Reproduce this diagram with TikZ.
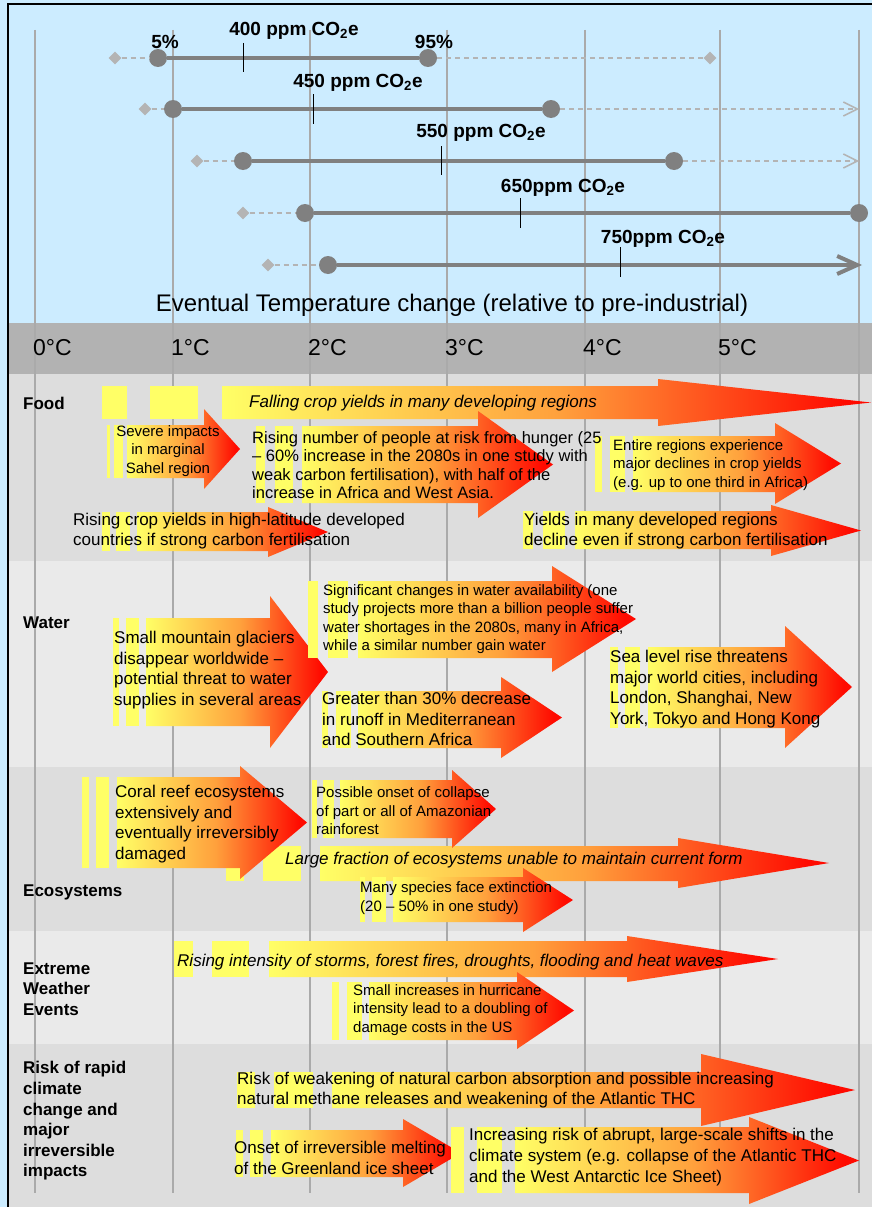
\documentclass[tikz,border=0pt]{standalone}
\usepackage{fontspec}
\setmainfont{Liberation Sans}
\usetikzlibrary{arrows.meta,shapes.geometric}
\definecolor{lblue}{RGB}{204,236,255}
\definecolor{hdr}{RGB}{178,178,178}
\definecolor{rowd}{RGB}{221,221,221}
\definecolor{rowl}{RGB}{234,234,234}
\definecolor{gridc}{RGB}{170,170,170}
\definecolor{dkg}{RGB}{128,128,128}
\definecolor{ltg}{RGB}{180,180,180}
\definecolor{ayel}{RGB}{255,255,102}
\definecolor{aorg}{RGB}{255,160,60}
\definecolor{ared}{RGB}{255,10,0}
\pgfdeclarehorizontalshading{arrgrad}{100bp}{color(0bp)=(ayel); color(25bp)=(ayel); color(51bp)=(aorg); color(73bp)=(ared); color(100bp)=(ared)}
\newcommand\fsz[2]{\fontsize{#1}{#2}\selectfont}
% #1 body x, #2 head x, #3 tip x, #4 body top, #5 body bottom, #6 head top, #7 head bottom
\newcommand\garrow[7]{\shade[shading=arrgrad] (#1,#4) -- (#2,#4) -- (#2,#6) -- (#3,{(#6+#7)/2}) -- (#2,#7) -- (#2,#5) -- (#1,#5) -- cycle;}
\newcommand\ybar[4]{\fill[ayel] (#1,#2) rectangle (#3,#4);}
\begin{document}
\begin{tikzpicture}[x=1pt,y=-1pt,
  gridl/.style={draw=gridc, line width=2pt},
  dashl/.style={draw=ltg, line width=1.5pt, dash pattern=on 5pt off 4pt},
  solidl/.style={draw=dkg, line width=4pt},
  dotn/.style={circle, fill=dkg, minimum size=18pt, inner sep=0pt},
  diam/.style={diamond, fill=ltg, minimum size=13pt, inner sep=0pt},
  tickl/.style={draw=black, line width=1pt},
  ppm/.style={font=\bfseries\fsz{19}{22}, inner sep=0pt},
  temp/.style={font=\fsz{23}{26}, anchor=west, inner sep=0pt},
  lbl/.style={font=\bfseries\fsz{17}{20.6}, align=left, anchor=west, inner sep=0pt},
  txa/.style={font=\fsz{15}{18.4}, align=left, anchor=west, inner sep=0pt},
  txb/.style={font=\fsz{17}{20.6}, align=left, anchor=west, inner sep=0pt},
  txi/.style={font=\itshape\fsz{17}{20}, anchor=west, inner sep=0pt}]
\useasboundingbox (0,0) rectangle (872,1207);
% backgrounds
\fill[lblue] (0,0) rectangle (872,1207);
\fill[hdr] (8,323) rectangle (872,374);
\fill[rowd] (8,374) rectangle (872,561);
\fill[rowl] (8,561) rectangle (872,767);
\fill[rowd] (8,767) rectangle (872,931);
\fill[rowl] (8,931) rectangle (872,1044);
\fill[rowd] (8,1044) rectangle (872,1207);
\draw[line width=2.5pt] (8,1215) -- (8,4) -- (880,4);
% grid
\foreach \gx in {35,173,310,447,585,720,859} \draw[gridl] (\gx,30) -- (\gx,1193);
% ---- top: stabilisation levels ----
% 400
\node[diam] (d1a) at (115,58) {};
\node[diam] (d1b) at (710,58) {};
\node[dotn] (c1a) at (158,58) {};
\node[dotn] (c1b) at (428,58) {};
\draw[dashl] (d1a) -- (c1a);
\draw[dashl] (c1b) -- (d1b);
\draw[solidl] (c1a) -- (c1b);
\coordinate (t1a) at (243,43); \coordinate (t1b) at (243,72);
\draw[tickl] (t1a) -- (t1b);
\node[ppm] (p5) at (165,42) {5\%};
\node[ppm] (p95) at (434,42) {95\%};
\node[ppm] (l400) at (294,31) {400 ppm CO\textsubscript{2}e};
% 450
\node[diam] (d2a) at (145,109) {};
\node[dotn] (c2a) at (173,109) {};
\node[dotn] (c2b) at (551,109) {};
\coordinate (e2) at (859,109);
\draw[dashl] (d2a) -- (c2a);
\draw[dashl, -{Straight Barb[length=14pt,width=14pt]}] (c2b) -- (e2);
\draw[solidl] (c2a) -- (c2b);
\coordinate (t2a) at (313,94); \coordinate (t2b) at (313,124);
\draw[tickl] (t2a) -- (t2b);
\node[ppm] (l450) at (358,83) {450 ppm CO\textsubscript{2}e};
% 550
\node[diam] (d3a) at (197,161) {};
\node[dotn] (c3a) at (243,161) {};
\node[dotn] (c3b) at (674,161) {};
\coordinate (e3) at (859,161);
\draw[dashl] (d3a) -- (c3a);
\draw[dashl, -{Straight Barb[length=14pt,width=14pt]}] (c3b) -- (e3);
\draw[solidl] (c3a) -- (c3b);
\coordinate (t3a) at (441,146); \coordinate (t3b) at (441,175);
\draw[tickl] (t3a) -- (t3b);
\node[ppm] (l550) at (481,133) {550 ppm CO\textsubscript{2}e};
% 650
\node[diam] (d4a) at (243,213) {};
\node[dotn] (c4a) at (305,213) {};
\node[dotn] (c4b) at (859,213) {};
\draw[dashl] (d4a) -- (c4a);
\draw[solidl] (c4a) -- (c4b);
\coordinate (t4a) at (520,198); \coordinate (t4b) at (520,228);
\draw[tickl] (t4a) -- (t4b);
\node[ppm] (l650) at (563,188) {650ppm CO\textsubscript{2}e};
% 750
\node[diam] (d5a) at (268,265) {};
\node[dotn] (c5a) at (328,265) {};
\coordinate (e5) at (862,265);
\draw[dashl] (d5a) -- (c5a);
\draw[solidl, -{Straight Barb[length=20pt,width=18pt]}] (c5a) -- (e5);
\coordinate (t5a) at (620,247); \coordinate (t5b) at (620,277);
\draw[tickl] (t5a) -- (t5b);
\node[ppm] (l750) at (663,239) {750ppm CO\textsubscript{2}e};
% title and temperature scale
\node[font=\fsz{24}{28}, inner sep=0pt] (title) at (452,305) {Eventual Temperature change (relative to pre-industrial)};
\node[temp] (k0) at (33,348) {0°C};
\node[temp] (k1) at (171,348) {1°C};
\node[temp] (k2) at (308,348) {2°C};
\node[temp] (k3) at (445,348) {3°C};
\node[temp] (k4) at (583,348) {4°C};
\node[temp] (k5) at (718,348) {5°C};
% ---- Food ----
\ybar{102}{386}{127}{419}\ybar{150}{386}{198}{419}
\garrow{222}{658}{871}{386}{419}{379}{426}
\ybar{107}{425}{110}{478}\ybar{114}{425}{123}{478}
\garrow{127}{204}{240}{425}{478}{409}{489}
\ybar{256}{426}{265}{503}\ybar{275}{426}{293}{503}
\garrow{302}{478}{553}{426}{503}{411}{518}
\ybar{595}{436}{602}{492}\ybar{610}{436}{625}{492}
\garrow{633}{775}{841}{436}{492}{423}{504}
\ybar{102}{512}{110}{551}\ybar{116}{512}{130}{551}
\garrow{137}{268}{328}{512}{551}{507}{557}
\ybar{523}{511}{533}{549}\ybar{543}{511}{565}{549}
\garrow{575}{771}{861}{511}{549}{505}{556}
% ---- Water ----
\ybar{113}{618}{119}{726}\ybar{126}{618}{139}{726}
\garrow{146}{270}{328}{618}{726}{596}{748}
\ybar{308}{581}{318}{658}\ybar{328}{581}{348}{658}
\garrow{358}{552}{636}{581}{658}{566}{672}
\ybar{322}{691}{328}{748}\ybar{336}{691}{351}{748}
\garrow{358}{501}{562}{691}{748}{677}{758}
\ybar{610}{647}{618}{728}\ybar{625}{647}{640}{728}
\garrow{648}{785}{852}{647}{728}{626}{748}
% ---- Ecosystems ----
\ybar{226}{846}{244}{881}\ybar{263}{846}{301}{881}
\garrow{320}{678}{829}{846}{881}{838}{888}
\ybar{82}{777}{89}{868}\ybar{96}{777}{109}{868}
\garrow{117}{240}{307}{777}{868}{766}{879}
\ybar{312}{780}{317}{838}\ybar{323}{780}{334}{838}
\garrow{340}{452}{496}{780}{838}{770}{848}
\ybar{360}{877}{365}{922}\ybar{372}{877}{386}{922}
\garrow{393}{523}{573}{877}{922}{868}{932}
% ---- Extreme weather ----
\ybar{174}{941}{193}{977}\ybar{212}{941}{249}{977}
\garrow{269}{627}{778}{941}{977}{936}{982}
\ybar{332}{982}{339}{1040}\ybar{347}{982}{362}{1040}
\garrow{369}{517}{574}{982}{1040}{972}{1049}
% ---- Risk ----
\ybar{237}{1072}{255}{1108}\ybar{274}{1072}{313}{1108}
\garrow{332}{701}{855}{1072}{1108}{1054}{1126}
\ybar{236}{1130}{243}{1177}\ybar{250}{1130}{263}{1177}
\garrow{271}{403}{461}{1130}{1177}{1119}{1187}
\ybar{451}{1127}{464}{1193}\ybar{477}{1127}{502}{1193}
\garrow{515}{749}{859}{1127}{1193}{1117}{1204}
% ---- row labels ----
\node[lbl] (food) at (23,403) {Food};
\node[lbl] (water) at (23,623) {Water};
\node[lbl] (eco) at (23,892) {Ecosystems};
\node[lbl] (ext) at (23,989) {Extreme\\Weather\\Events};
\node[lbl] (risk) at (23,1121) {Risk of rapid\\climate\\change and\\major\\irreversible\\impacts};
% ---- texts ----
\node[txi] (f1) at (249,403) {Falling crop yields in many developing regions};
\node[txa, align=center, anchor=center] (f2) at (168,451) {Severe impacts\\in marginal\\Sahel region};
\node[txa, font=\fsz{16.5}{18.2}] (f3) at (252,465) {Rising number of people at risk from hunger (25\\– 60\% increase in the 2080s in one study with\\weak carbon fertilisation), with half of the\\increase in Africa and West Asia.};
\node[txa] (f4) at (613,465) {Entire regions experience\\major declines in crop yields\\(e.g. up to one third in Africa)};
\node[txb] (f5) at (73,531) {Rising crop yields in high-latitude developed\\countries if strong carbon fertilisation};
\node[txb] (f6) at (524,531) {Yields in many developed regions\\decline even if strong carbon fertilisation};
\node[txb] (w1) at (114,670) {Small mountain glaciers\\disappear worldwide –\\potential threat to water\\supplies in several areas};
\node[txa] (w2) at (323,619) {Significant changes in water availability (one\\study projects more than a billion people suffer\\water shortages in the 2080s, many in Africa,\\while a similar number gain water};
\node[txb] (w3) at (322,719) {Greater than 30\% decrease\\in runoff in Mediterranean\\and Southern Africa};
\node[txb] (w4) at (610,689) {Sea level rise threatens\\major world cities, including\\London, Shanghai, New\\York, Tokyo and Hong Kong};
\node[txb] (e1) at (115,824) {Coral reef ecosystems\\extensively and\\eventually irreversibly\\damaged};
\node[txa] (e2t) at (316,811) {Possible onset of collapse\\of part or all of Amazonian\\rainforest};
\node[txi] (e3t) at (285,860) {Large fraction of ecosystems unable to maintain current form};
\node[txa] (e4t) at (360,898) {Many species face extinction\\(20 – 50\% in one study)};
\node[txi] (x1) at (177,962) {Rising intensity of storms, forest fires, droughts, flooding and heat waves};
\node[txa] (x2) at (353,1010) {Small increases in hurricane\\intensity lead to a doubling of\\damage costs in the US};
\node[txb] (r1) at (237,1090) {Risk of weakening of natural carbon absorption and possible increasing\\natural methane releases and weakening of the Atlantic THC};
\node[txb] (r2) at (234,1158) {Onset of irreversible melting\\of the Greenland ice sheet};
\node[txb] (r3) at (469,1157) {Increasing risk of abrupt, large-scale shifts in the\\climate system (e.g. collapse of the Atlantic THC\\and the West Antarctic Ice Sheet)};
\end{tikzpicture}
\end{document}
